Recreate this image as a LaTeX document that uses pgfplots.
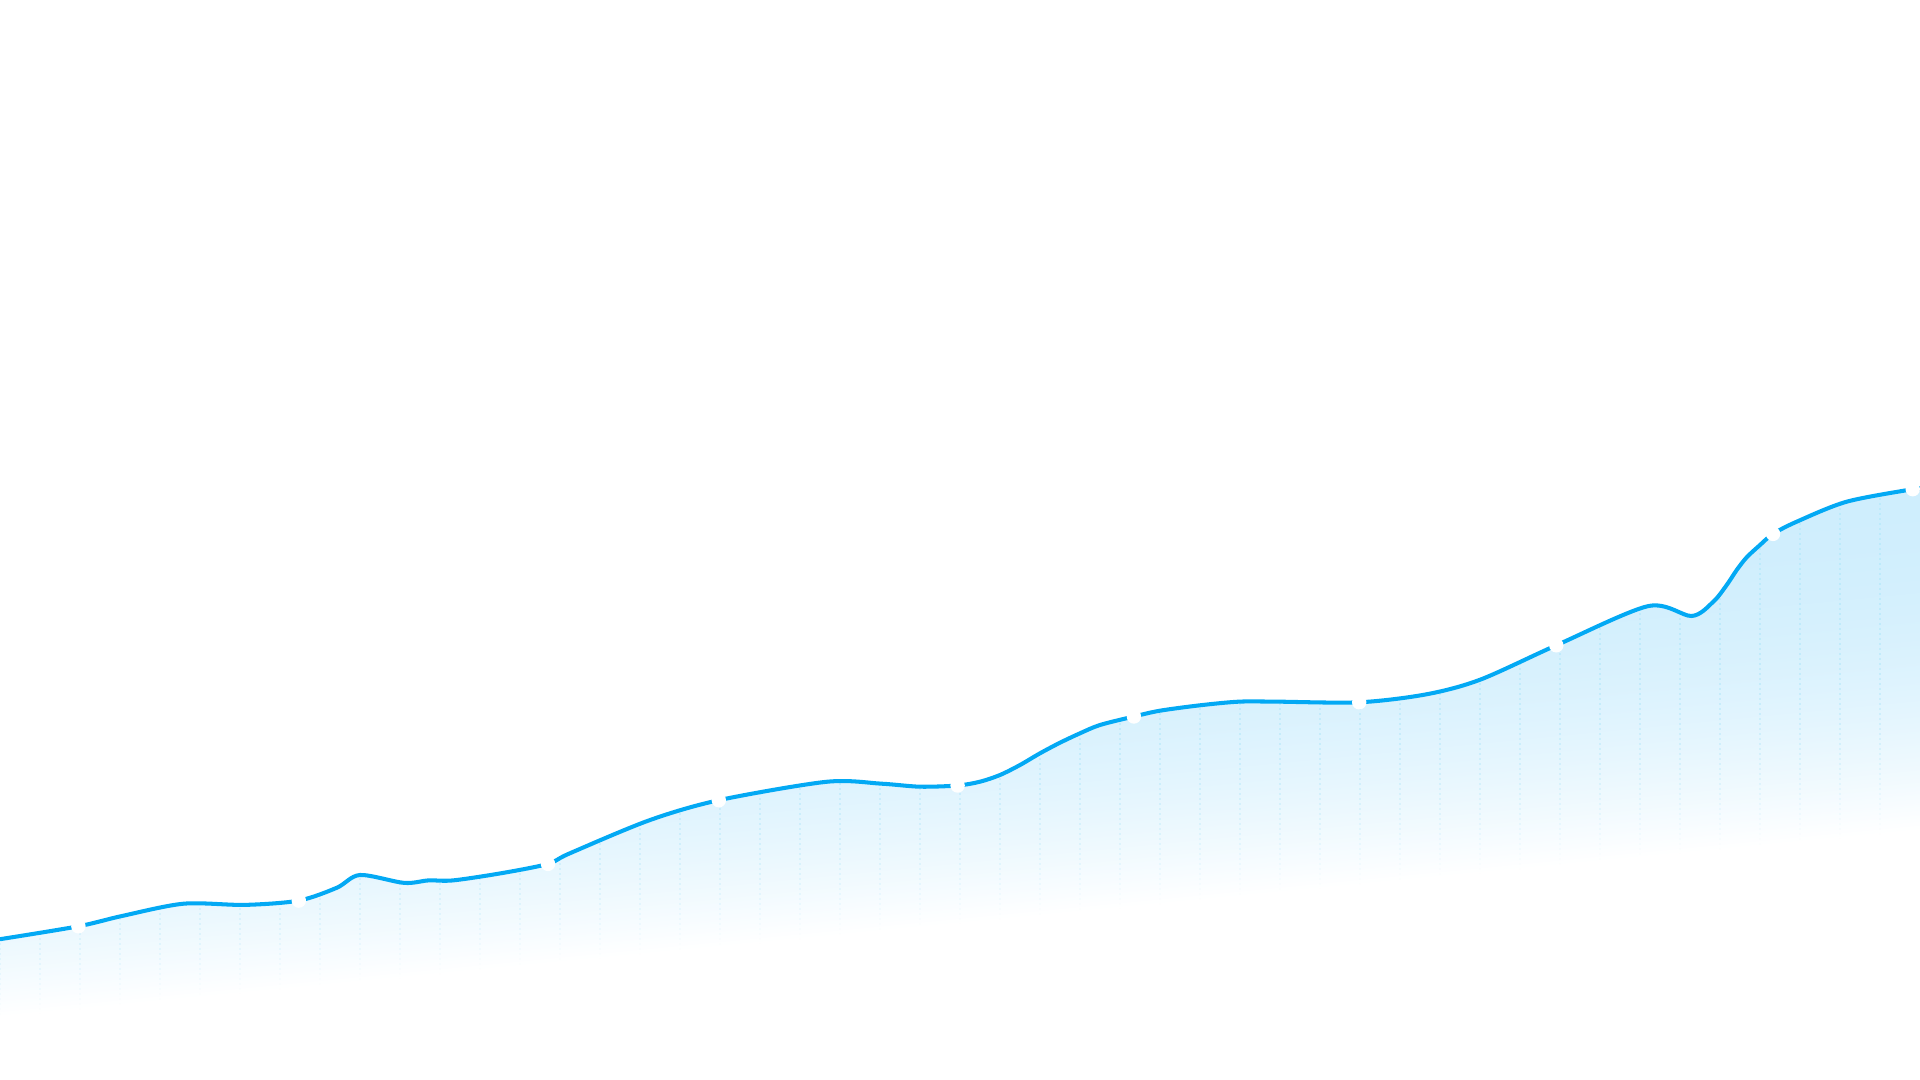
\documentclass[border=0pt]{standalone}
\usepackage{pgfplots}
\pgfplotsset{compat=1.18}
\usepackage{pgfplotstable}
\usetikzlibrary{fadings,patterns}

\definecolor{linecol}{RGB}{3,169,244}
\definecolor{gridcol}{RGB}{188,234,251}

% colour = white mixed with RGB(207,238,253) by t; t eases in over a tilted band
\pgfdeclarefunctionalshading{areashade}{\pgfpointorigin}{\pgfpoint{100bp}{100bp}}{}{%
  25 sub 11.82 mul exch 25 sub -3.725 mul add 63 sub 341 div
  dup 0 lt {pop 0} if dup 1 gt {pop 1} if
  dup 2 exch sub mul
  dup 0.188 mul 1 exch sub exch
  dup 0.067 mul 1 exch sub exch
  0.008 mul 1 exch sub}

\pgfdeclarefunctionalshading{gridfunc}{\pgfpointorigin}{\pgfpoint{100bp}{100bp}}{}{%
  25 sub 11.82 mul exch 25 sub -3.725 mul add 63 sub 341 div
  dup 0 lt {pop 0} if dup 1 gt {pop 1} if
  dup 2 exch sub mul
  dup dup}
\pgfdeclarefading{gridfade}{\pgfuseshading{gridfunc}}

\pgfdeclarepatternformonly{griddots}{\pgfpointorigin}{\pgfpoint{4mm}{0.5mm}}{\pgfpoint{4mm}{0.5mm}}{%
  \pgfpathrectangle{\pgfpoint{0mm}{0mm}}{\pgfpoint{0.18mm}{0.18mm}}%
  \pgfusepath{fill}}

\pgfplotstableread{
x y
0 140.8
78.4 153.7
122.4 164.1
183.7 176.3
244.9 175.1
298.8 179.4
336.7 192.2
360 205
404.1 197.1
428.6 199.6
453.1 199.6
502 206.9
548 216.1
569.4 226.5
649 259.6
718.8 279.8
826.5 298.2
881.6 296.3
920 293.3
957.6 294.5
980 298.3
1000 305
1020 315
1040 326.7
1060 337.3
1080 346.7
1100 355
1133.9 363.5
1160 369.3
1200 374.7
1238.3 378.3
1273.5 378.4
1359.2 377.7
1426.5 385.7
1480.4 400.4
1556.3 434.7
1648.2 473.9
1691.7 464
1713.3 478.3
1726.7 495
1736.7 510
1746.7 522.7
1760 535
1773 546.1
1796.7 558.3
1846.7 578.3
1912.7 590.8
1920 591.4
}\linedata

\pgfplotstableread{
x y
78.4 153.7
298.8 179.4
548 216.1
718.8 279.8
957.6 294.5
1133.9 363.5
1359.2 377.7
1556.3 434.7
1773 546.1
1912.7 590.8
}\markdata

\begin{document}
\begin{tikzpicture}
\begin{axis}[
  width=19.2cm, height=10.8cm, scale only axis,
  xmin=0, xmax=1920, ymin=0, ymax=1080,
  axis line style={draw=none}, ticks=none,
  clip=true,
]
\addplot[draw=none, shading=areashade, smooth, tension=0.5] table {\linedata} \closedcycle;
\addplot[draw=none, pattern=griddots, pattern color=gridcol, path fading=gridfade, smooth, tension=0.5] table {\linedata} \closedcycle;
\addplot[color=linecol, line width=1.15pt, smooth, tension=0.5] table {\linedata};
\addplot[only marks, color=white, mark=*, mark size=1.85pt, mark options={fill=white, draw=white}] table {\markdata};
\end{axis}
\end{tikzpicture}
\end{document}
